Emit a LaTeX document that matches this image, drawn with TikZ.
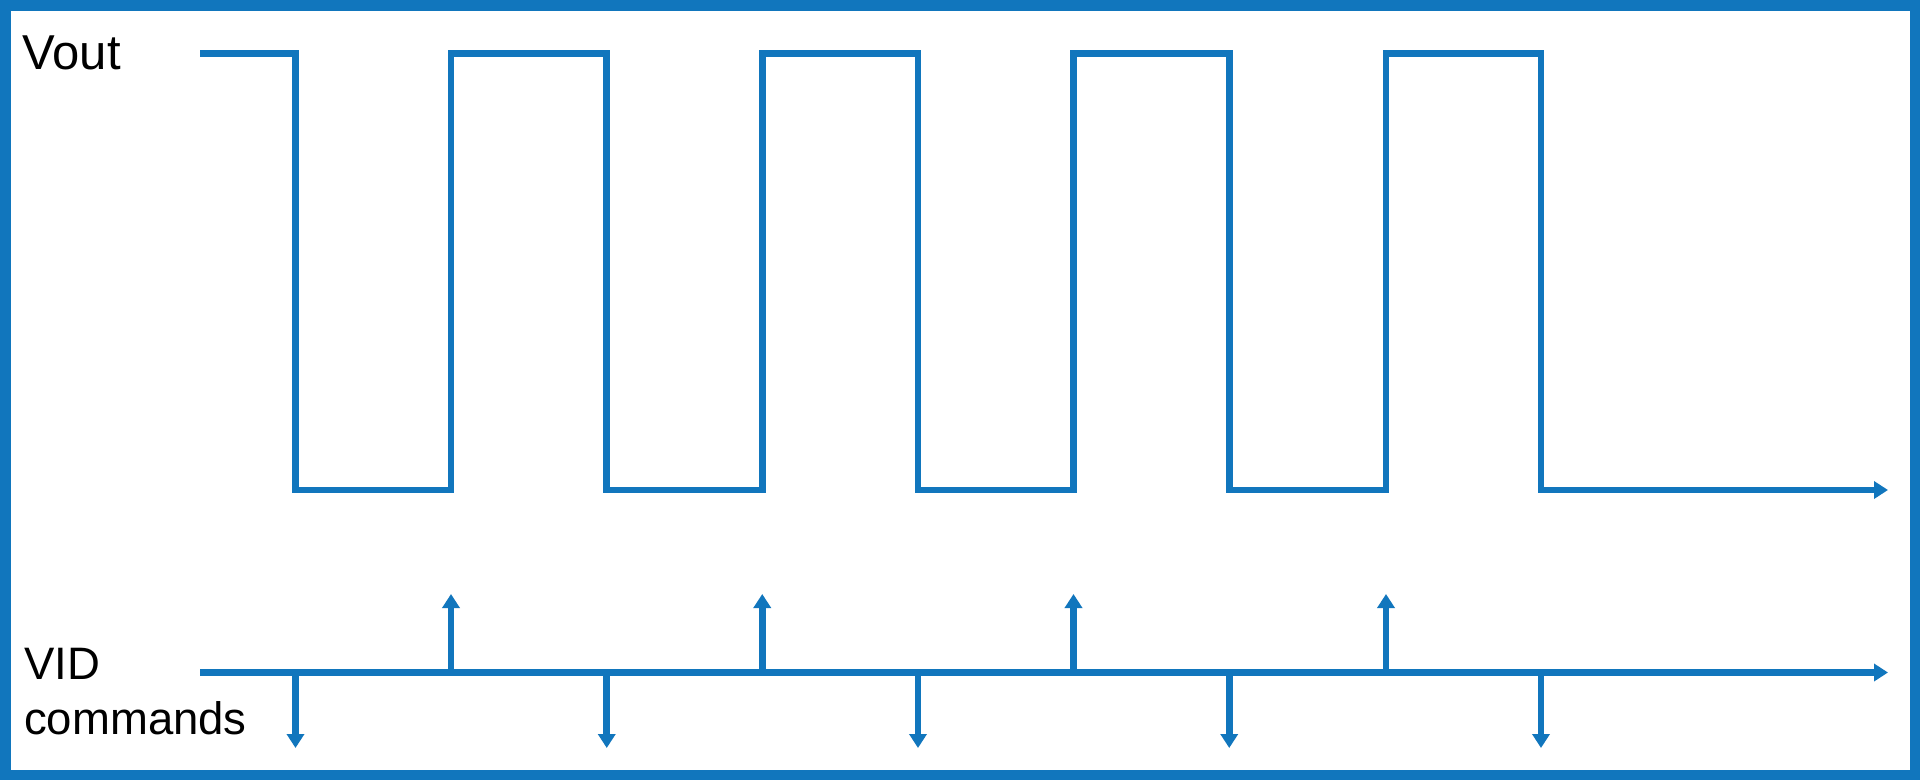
\documentclass[tikz,border=0pt]{standalone}
\usepackage{fontspec}
\setmainfont{Liberation Sans}
\usetikzlibrary{arrows.meta}
\definecolor{wblue}{RGB}{17,118,189}
\begin{document}
\begin{tikzpicture}[x=1pt,y=-1pt,
  wave/.style={draw=wblue,line width=6.6pt,line join=miter,line cap=butt},
  arr/.style={wave,-{Triangle[width=17pt,length=14pt]}},
  lbl/.style={anchor=base west,inner sep=0pt,text=black}]
\useasboundingbox (0,0) rectangle (1920,780);
\fill[white] (0,0) rectangle (1920,780);
\draw[draw=wblue,line width=10.5pt] (5.25,5.25) rectangle (1914.75,774.75);
% labels
\node[lbl,font=\fontsize{49}{55}\selectfont] (vout) at (22.5,69.3) {Vout};
\node[lbl,font=\fontsize{45.5}{55}\selectfont] (vid) at (24,679) {VID};
\node[lbl,font=\fontsize{45.5}{55}\selectfont] (cmd) at (24,734) {commands};
% key coordinates
\def\hi{53.5}
\def\lo{490}
\def\vl{672.5}
\coordinate (ws) at (200,\hi);
\coordinate (we) at (1888,\lo);
\coordinate (vs) at (200,\vl);
\coordinate (ve) at (1888,\vl);
% waveform
\draw[arr] (ws) -- (295.5,\hi) -- (295.5,\lo) -- (451,\lo) -- (451,\hi)
  -- (606.75,\hi) -- (606.75,\lo) -- (762.25,\lo) -- (762.25,\hi)
  -- (918,\hi) -- (918,\lo) -- (1073.5,\lo) -- (1073.5,\hi)
  -- (1229.25,\hi) -- (1229.25,\lo) -- (1386,\lo) -- (1386,\hi)
  -- (1541,\hi) -- (1541,\lo) -- (we);
% VID command axis
\draw[arr] (vs) -- (ve);
\foreach \x [count=\i] in {295.5,606.75,918,1229.25,1541}{
  \coordinate (d\i) at (\x,\vl);
  \coordinate (dt\i) at (\x,748);
  \draw[arr] (d\i) -- (dt\i);
}
\foreach \x [count=\i] in {451,762.25,1073.5,1386}{
  \coordinate (u\i) at (\x,\vl);
  \coordinate (ut\i) at (\x,594);
  \draw[arr] (u\i) -- (ut\i);
}
\end{tikzpicture}
\end{document}
